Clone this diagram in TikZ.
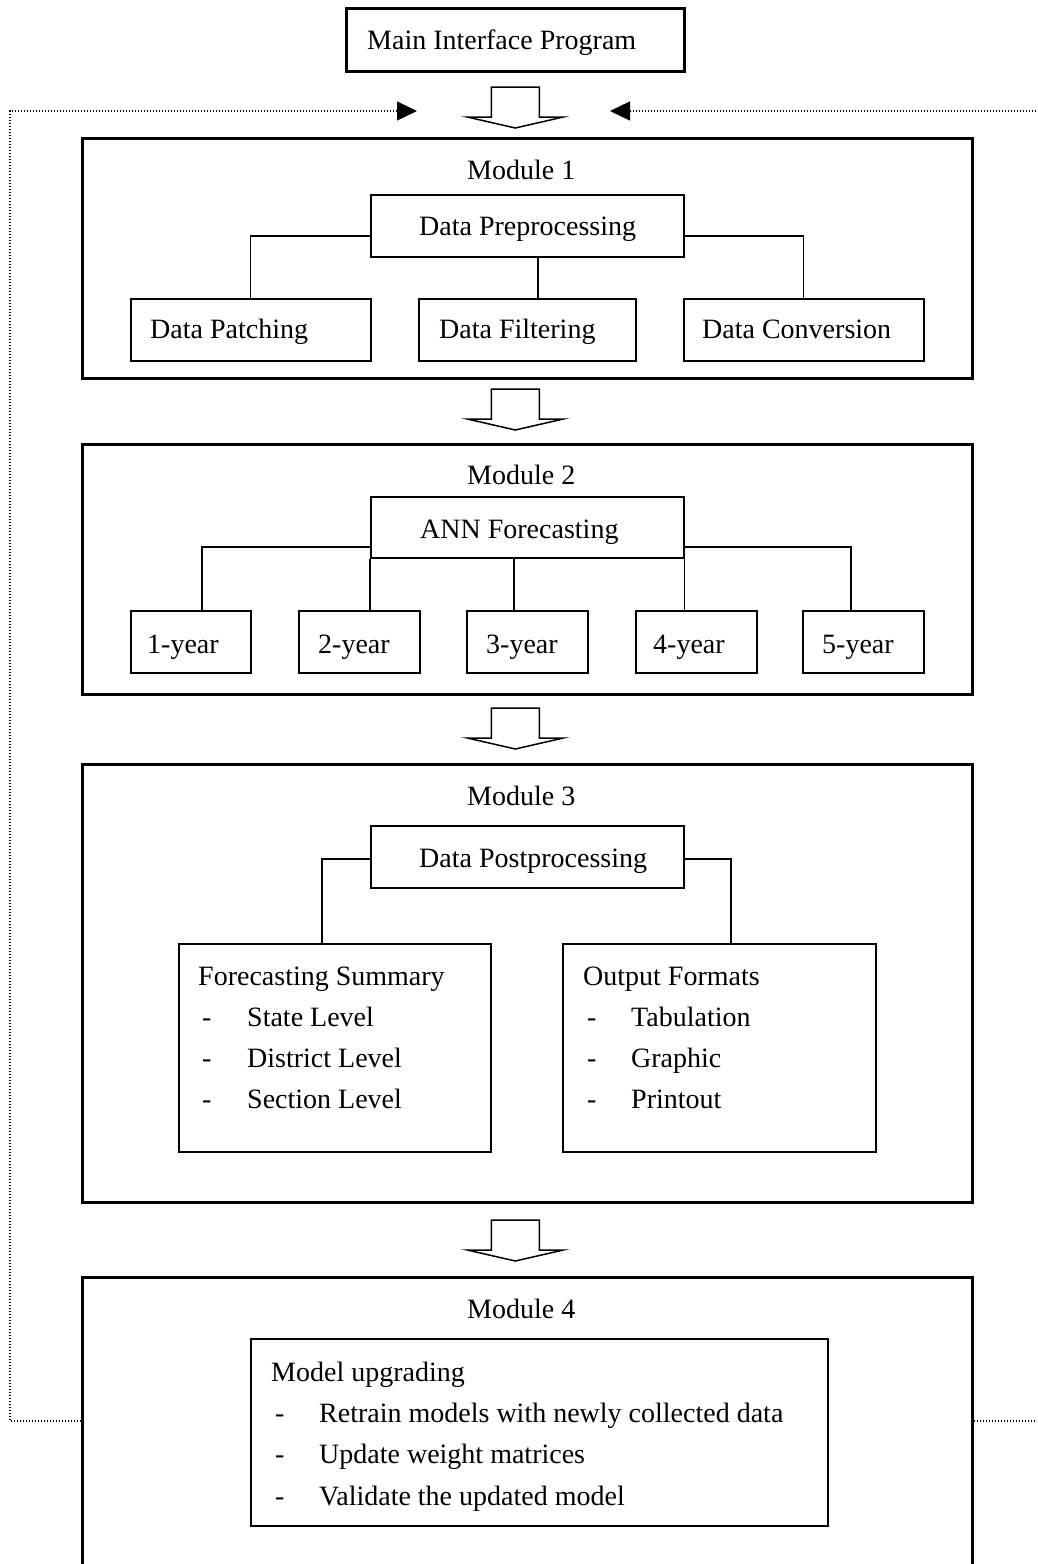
\documentclass[tikz,border=0pt]{standalone}
\usepackage{fontspec}
\setmainfont{Liberation Serif}
\usetikzlibrary{arrows.meta,calc}
\begin{document}
\begin{tikzpicture}[x=1pt,y=-1pt,
  modbox/.style={draw, line width=3pt, inner sep=0, anchor=north west},
  topbox/.style={draw, line width=2.6pt, inner sep=0, anchor=north west},
  inbox/.style={draw, line width=1.7pt, inner sep=0, anchor=north west},
  conn/.style={line width=1.2pt},
  fb/.style={line width=1.3pt, dash pattern=on 1.4pt off 1.6pt},
  fbtip/.style={-{Triangle[length=20pt,width=19pt]}},
  txt/.style={anchor=base west, inner sep=0, font=\fontsize{28pt}{34pt}\selectfont},
  pics/blockarrow/.style={code={
    \draw[line width=1.5pt, line join=miter, fill=white]
      (-24,0) -- (24,0) -- (24,30) -- (48,30) -- (0,41) -- (-48,30) -- (-24,30) -- cycle;}}
]
\clip (0,0) rectangle (1037,1564);
\fill[white] (0,0) rectangle (1037,1564);

% top-level program
\node[topbox, minimum width=338pt, minimum height=63pt] (main) at (345,7) {};
\node[txt] (tmain) at (367,49) {Main Interface Program};

% module 1: preprocessing
\node[modbox, minimum width=890pt, minimum height=240pt] (m1) at (81,137) {};
\node[txt] (tm1) at (467,179) {Module 1};
\node[inbox, minimum width=313pt, minimum height=62pt] (dp) at (370,194) {};
\node[txt] (tdp) at (419,235) {Data Preprocessing};
\node[inbox, minimum width=240pt, minimum height=62pt] (patch) at (130,298) {};
\node[inbox, minimum width=217pt, minimum height=62pt] (filt) at (418,298) {};
\node[inbox, minimum width=240pt, minimum height=62pt] (conv) at (683,298) {};
\node[txt] (tpatch) at (150,338.5) {Data Patching};
\node[txt] (tfilt) at (439,338.5) {Data Filtering};
\node[txt] (tconv) at (702,338.5) {Data Conversion};
\draw[conn] (dp.west |- 0,236) -| (patch.north);
\draw[conn] (dp.east |- 0,236) -| (conv.north);
\draw[conn] (dp.south -| 538,0) -- (filt.north -| 538,0);

% module 2: forecasting
\node[modbox, minimum width=890pt, minimum height=250pt] (m2) at (81,443) {};
\node[txt] (tm2) at (467,484.5) {Module 2};
\node[inbox, minimum width=313pt, minimum height=61pt] (ann) at (370,496) {};
\node[txt] (tann) at (420,538.5) {ANN Forecasting};
\foreach \n/\x/\w/\tx in {1/130/120/147, 2/298/121/318, 3/466/121/486, 4/635/121/653, 5/802/121/822}{
  \node[inbox, minimum width=\w pt, minimum height=62pt] (y\n) at (\x,610) {};
  \node[txt] (ty\n) at (\tx,653.5) {\n-year};
}
\draw[conn] (ann.west |- 0,547) -| (y1.north -| 202,0);
\draw[conn] (ann.east |- 0,547) -| (y5.north -| 851,0);
\draw[conn] (ann.south west) -- (y2.north -| ann.south west);
\draw[conn] (ann.south -| 514,0) -- (y3.north -| 514,0);
\draw[conn] (ann.south east) -- (y4.north -| ann.south east);

% module 3: postprocessing
\node[modbox, minimum width=890pt, minimum height=438pt] (m3) at (81,763) {};
\node[txt] (tm3) at (467,805.5) {Module 3};
\node[inbox, minimum width=313pt, minimum height=62pt] (dpost) at (370,825) {};
\node[txt] (tdpost) at (419,867) {Data Postprocessing};
\node[inbox, minimum width=312pt, minimum height=208pt] (fs) at (178,943) {};
\node[inbox, minimum width=313pt, minimum height=208pt] (of) at (562,943) {};
\node[txt] (tfs) at (198,985.5) {Forecasting Summary};
\node[txt] (tfs1) at (202,1026.5) {\makebox[45pt][l]{-}State Level};
\node[txt] (tfs2) at (202,1067) {\makebox[45pt][l]{-}District Level};
\node[txt] (tfs3) at (202,1108.5) {\makebox[45pt][l]{-}Section Level};
\node[txt] (tof) at (583,985.5) {Output Formats};
\node[txt] (tof1) at (587,1026.5) {\makebox[44pt][l]{-}Tabulation};
\node[txt] (tof2) at (587,1067) {\makebox[44pt][l]{-}Graphic};
\node[txt] (tof3) at (587,1108.5) {\makebox[44pt][l]{-}Printout};
\draw[conn] (dpost.west |- 0,859) -| (fs.north -| 322,0);
\draw[conn] (dpost.east |- 0,859) -| (of.north -| 731,0);

% module 4: model upgrading (runs past the lower edge)
\node[modbox, minimum width=890pt, minimum height=330pt] (m4) at (81,1276) {};
\node[txt] (tm4) at (467,1318.5) {Module 4};
\node[inbox, minimum width=577pt, minimum height=187pt] (mu) at (250,1338) {};
\node[txt] (tmu) at (271,1381) {Model upgrading};
\node[txt] (tmu1) at (275,1422.5) {\makebox[44pt][l]{-}Retrain models with newly collected data};
\node[txt] (tmu2) at (275,1463.5) {\makebox[44pt][l]{-}Update weight matrices};
\node[txt] (tmu3) at (275,1505) {\makebox[44pt][l]{-}Validate the updated model};

% block arrows between stages
\pic at (main.south |- 0,87) {blockarrow};
\pic at (main.south |- 0,389) {blockarrow};
\pic at (main.south |- 0,708) {blockarrow};
\pic at (main.south |- 0,1220) {blockarrow};

% feedback loop back to the main program
\coordinate (fbL) at (417,111);
\coordinate (fbR) at (610,111);
\coordinate (fbRin) at (1045,111);
\coordinate (fbRout) at (1045,1421);
\draw[fb, fbtip] (m4.west |- 0,1421) -| (10,111) -- (fbL);
\draw[fb] (m4.east |- 0,1421) -- (fbRout);
\draw[fb, fbtip] (fbRin) -- (fbR);
\end{tikzpicture}
\end{document}
